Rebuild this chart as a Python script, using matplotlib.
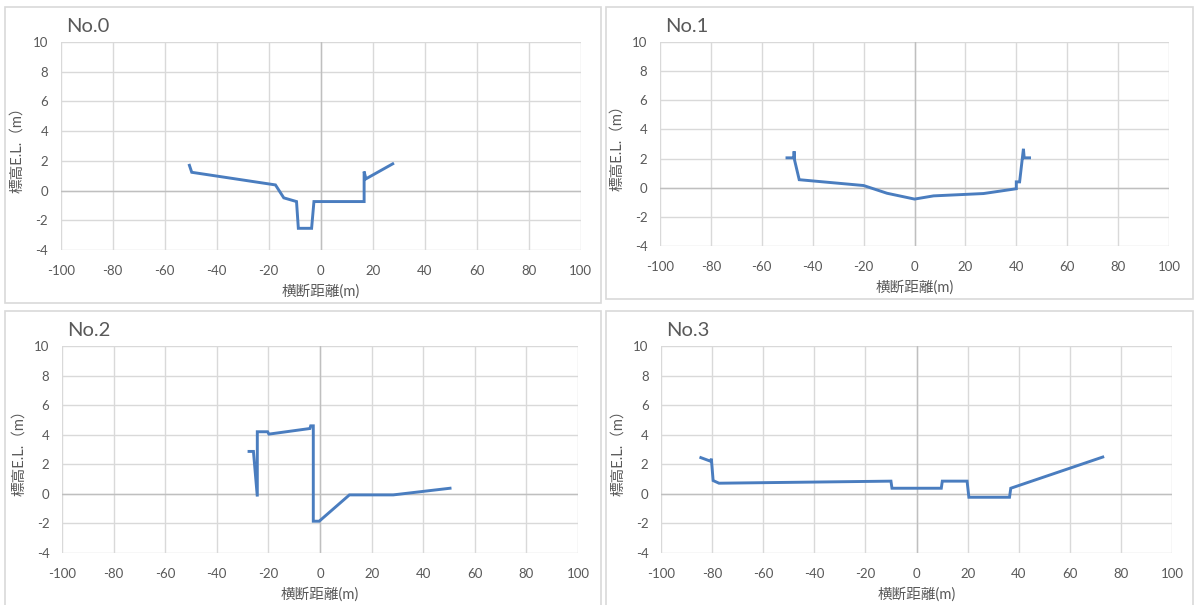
import matplotlib
matplotlib.use("Agg")
import matplotlib.pyplot as plt
from matplotlib.patches import Rectangle

plt.rcParams['font.family'] = ['Lato', 'Noto Sans CJK JP', 'DejaVu Sans']
plt.rcParams['axes.unicode_minus'] = False

W, H = 1195, 605

# cross-section data: (distance m, elevation m)
names = ['No.0', 'No.1', 'No.2', 'No.3']

x0 = [-50.5, -49.6, -17.4, -14.2, -9.3, -8.6, -3.5, -2.6, 16.7, 16.7, 17.4, 27.7]
y0 = [1.7, 1.23, 0.38, -0.49, -0.74, -2.54, -2.54, -0.74, -0.74, 1.28, 0.79, 1.8]

x1 = [-50.1, -47.4, -47.3, -47.2, -45.3, -20.0, -10.8, 0.0, 7.5, 27.1, 40.0, 40.0, 41.3, 42.8, 43.1, 45.2]
y1 = [2.05, 2.05, 2.5, 1.95, 0.55, 0.15, -0.38, -0.78, -0.56, -0.4, -0.07, 0.4, 0.4, 2.67, 2.05, 2.05]

x2 = [-27.5, -25.8, -24.3, -24.3, -20.3, -19.8, -3.9, -3.6, -2.6, -2.6, -0.3, 11.4, 28.4, 50.4]
y2 = [2.87, 2.87, -0.18, 4.2, 4.2, 4.04, 4.42, 4.6, 4.6, -1.85, -1.85, -0.07, -0.07, 0.38]

x3 = [-84.4, -80.5, -80.3, -79.6, -77.3, -10.0, -9.6, 9.7, 10.1, 19.8, 20.5, 36.4, 36.9, 72.9]
y3 = [2.45, 2.2, 2.38, 0.9, 0.72, 0.86, 0.38, 0.38, 0.86, 0.86, -0.23, -0.23, 0.38, 2.49]

xticks = list(range(-100, 101, 20))
yticks = list(range(-4, 11, 2))

# layout in pixels: panel box and plot area (left, top, right, bottom)
boxes = [(5, 7, 601, 303), (606, 7, 1193, 299), (5, 311, 601, 620), (606, 311, 1193, 620)]
areas = [(60.7, 42, 580.7, 250), (660, 42, 1169, 246), (62, 346, 578, 553), (661, 346, 1172, 553)]

grey = '#595959'
blue = '#4a7dbf'

fig = plt.figure(figsize=(W / 100, H / 100), dpi=100)


def fx(px):
    return px / W


def fy(py):
    return 1 - py / H


def draw_panel(i, xs, ys):
    bl, bt, br, bb = boxes[i]
    fig.patches.append(Rectangle((fx(bl), fy(bb)), fx(br - bl), (bb - bt) / H,
                                 transform=fig.transFigure, fill=False,
                                 edgecolor='#d9d9d9', lw=1.2))
    l, t, r, b = areas[i]
    ax = fig.add_axes([fx(l), fy(b), fx(r - l), (b - t) / H])
    ax.set_xlim(-100, 100)
    ax.set_ylim(-4, 10)
    ax.set_xticks(xticks)
    ax.set_yticks(yticks)
    ax.grid(True, color='#d9d9d9', lw=1.0)
    ax.set_axisbelow(True)
    for s in ax.spines.values():
        s.set_visible(False)
    ax.axhline(0, color='#bfbfbf', lw=1.0, zorder=1)
    ax.axvline(0, color='#bfbfbf', lw=1.0, zorder=1)
    ax.tick_params(length=0, labelsize=9.5, labelcolor=grey)
    ax.tick_params(axis='x', pad=11)
    ax.tick_params(axis='y', pad=9)
    ax.plot(xs, ys, color=blue, lw=2.1, zorder=3, solid_joinstyle='miter')
    ax.set_xlabel('横断距離(m)', fontsize=10.5, color=grey, labelpad=5)
    ax.set_ylabel('標高E.L.（m）', fontsize=10.5, color=grey, labelpad=6)
    fig.text(fx(l + 5), fy(t - 15), names[i], fontsize=14.5, color=grey,
             ha='left', va='center')
    return ax


draw_panel(0, x0, y0)
draw_panel(1, x1, y1)
draw_panel(2, x2, y2)
draw_panel(3, x3, y3)

fig.savefig('out.png', dpi=100, facecolor='white')
